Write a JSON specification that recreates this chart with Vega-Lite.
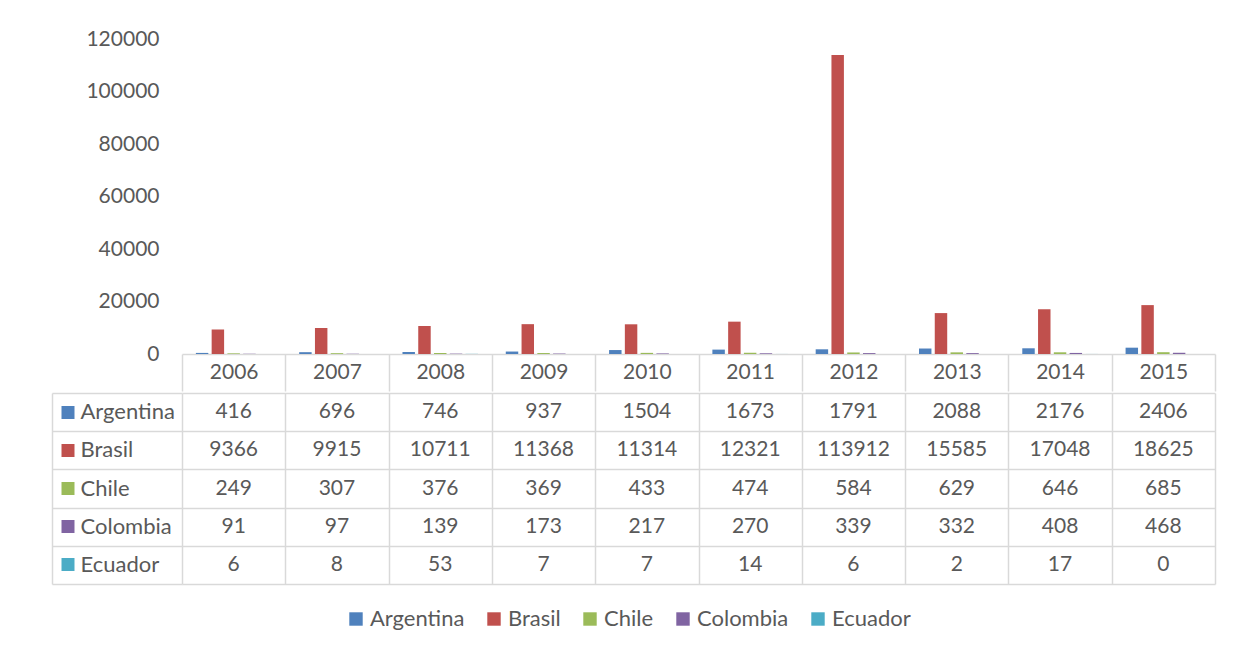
{
  "$schema": "https://vega.github.io/schema/vega-lite/v6.json",
  "padding": {"left": 51, "top": 28, "right": 10, "bottom": 10},
  "background": "white",
  "config": {"font": "Lato", "view": {"stroke": null}},
  "spacing": 0,
  "data": {"values": [
    {"year": "2006", "series": "Argentina", "value": 416},
    {"year": "2007", "series": "Argentina", "value": 696},
    {"year": "2008", "series": "Argentina", "value": 746},
    {"year": "2009", "series": "Argentina", "value": 937},
    {"year": "2010", "series": "Argentina", "value": 1504},
    {"year": "2011", "series": "Argentina", "value": 1673},
    {"year": "2012", "series": "Argentina", "value": 1791},
    {"year": "2013", "series": "Argentina", "value": 2088},
    {"year": "2014", "series": "Argentina", "value": 2176},
    {"year": "2015", "series": "Argentina", "value": 2406},
    {"year": "2006", "series": "Brasil", "value": 9366},
    {"year": "2007", "series": "Brasil", "value": 9915},
    {"year": "2008", "series": "Brasil", "value": 10711},
    {"year": "2009", "series": "Brasil", "value": 11368},
    {"year": "2010", "series": "Brasil", "value": 11314},
    {"year": "2011", "series": "Brasil", "value": 12321},
    {"year": "2012", "series": "Brasil", "value": 113912},
    {"year": "2013", "series": "Brasil", "value": 15585},
    {"year": "2014", "series": "Brasil", "value": 17048},
    {"year": "2015", "series": "Brasil", "value": 18625},
    {"year": "2006", "series": "Chile", "value": 249},
    {"year": "2007", "series": "Chile", "value": 307},
    {"year": "2008", "series": "Chile", "value": 376},
    {"year": "2009", "series": "Chile", "value": 369},
    {"year": "2010", "series": "Chile", "value": 433},
    {"year": "2011", "series": "Chile", "value": 474},
    {"year": "2012", "series": "Chile", "value": 584},
    {"year": "2013", "series": "Chile", "value": 629},
    {"year": "2014", "series": "Chile", "value": 646},
    {"year": "2015", "series": "Chile", "value": 685},
    {"year": "2006", "series": "Colombia", "value": 91},
    {"year": "2007", "series": "Colombia", "value": 97},
    {"year": "2008", "series": "Colombia", "value": 139},
    {"year": "2009", "series": "Colombia", "value": 173},
    {"year": "2010", "series": "Colombia", "value": 217},
    {"year": "2011", "series": "Colombia", "value": 270},
    {"year": "2012", "series": "Colombia", "value": 339},
    {"year": "2013", "series": "Colombia", "value": 332},
    {"year": "2014", "series": "Colombia", "value": 408},
    {"year": "2015", "series": "Colombia", "value": 468},
    {"year": "2006", "series": "Ecuador", "value": 6},
    {"year": "2007", "series": "Ecuador", "value": 8},
    {"year": "2008", "series": "Ecuador", "value": 53},
    {"year": "2009", "series": "Ecuador", "value": 7},
    {"year": "2010", "series": "Ecuador", "value": 7},
    {"year": "2011", "series": "Ecuador", "value": 14},
    {"year": "2012", "series": "Ecuador", "value": 6},
    {"year": "2013", "series": "Ecuador", "value": 2},
    {"year": "2014", "series": "Ecuador", "value": 17},
    {"year": "2015", "series": "Ecuador", "value": 0}
  ]},
  "resolve": {"scale": {"color": "independent"}, "legend": {"color": "independent"}},
  "vconcat": [
    {
      "width": 1033,
      "height": 315,
      "mark": {"type": "bar"},
      "encoding": {
        "x": {
          "field": "year", "type": "nominal",
          "scale": {"type": "band", "paddingInner": 0, "paddingOuter": 0},
          "axis": {
            "title": null, "orient": "bottom", "labelAngle": 0,
            "tickBand": "extent", "tickSize": 37, "tickColor": "#D9D9D9", "tickWidth": 1.5,
            "domainColor": "#D9D9D9", "domainWidth": 1.5,
            "labelPadding": -18.5, "labelBaseline": "middle",
            "labelFontSize": 21, "labelColor": "#595959", "grid": false
          }
        },
        "xOffset": {
          "field": "series", "type": "nominal",
          "sort": ["Argentina", "Brasil", "Chile", "Colombia", "Ecuador"],
          "scale": {"paddingInner": 0.21, "paddingOuter": 0.88}
        },
        "y": {
          "field": "value", "type": "quantitative",
          "scale": {"domain": [0, 120000], "nice": false},
          "axis": {
            "title": null, "values": [0, 20000, 40000, 60000, 80000, 100000, 120000],
            "format": "d", "domain": false, "ticks": false, "grid": false,
            "labelPadding": 23, "labelFontSize": 21, "labelColor": "#595959"
          }
        },
        "color": {
          "field": "series", "type": "nominal",
          "scale": {
            "domain": ["Argentina", "Brasil", "Chile", "Colombia", "Ecuador"],
            "range": ["#4F81BD", "#C0504D", "#9BBB59", "#8064A2", "#4BACC6"]
          },
          "legend": null
        }
      }
    },
    {
      "width": 1033,
      "height": 191,
      "resolve": {"axis": {"y": "independent"}},
      "layer": [
        {
          "mark": {"type": "text", "fontSize": 21, "color": "#595959", "baseline": "middle"},
          "encoding": {
            "x": {
              "field": "year", "type": "nominal",
              "scale": {"type": "band", "paddingInner": 0, "paddingOuter": 0},
              "axis": {
                "orient": "bottom", "title": null, "labels": false, "ticks": false, "domain": false,
                "grid": true, "tickBand": "extent", "gridColor": "#D9D9D9", "gridWidth": 1.5
              }
            },
            "y": {
              "field": "series", "type": "nominal",
              "sort": ["Argentina", "Brasil", "Chile", "Colombia", "Ecuador"],
              "scale": {"type": "band", "paddingInner": 0, "paddingOuter": 0},
              "axis": {
                "orient": "left", "title": null, "offset": 108,
                "domain": false, "grid": false,
                "ticks": true, "tickSize": 13, "tickWidth": 13, "tickCap": "butt",
                "tickColor": {"expr": "datum.value === 'Argentina' ? '#4F81BD' : datum.value === 'Brasil' ? '#C0504D' : datum.value === 'Chile' ? '#9BBB59' : datum.value === 'Colombia' ? '#8064A2' : '#4BACC6'"},
                "labelAlign": "left", "labelBaseline": "middle", "labelPadding": -19,
                "labelFontSize": 22, "labelColor": "#595959"
              }
            },
            "text": {"field": "value", "type": "quantitative", "format": "d"}
          }
        },
        {
          "mark": {"type": "text", "text": ""},
          "encoding": {
            "x": {"field": "year", "type": "nominal"},
            "y": {
              "field": "series", "type": "nominal",
              "sort": ["Argentina", "Brasil", "Chile", "Colombia", "Ecuador"],
              "axis": {
                "orient": "left", "title": null, "offset": 130, "labels": false,
                "domain": true, "domainColor": "#D9D9D9", "domainWidth": 1.5,
                "ticks": true, "tickBand": "extent", "tickSize": -130, "tickColor": "#D9D9D9", "tickWidth": 1.5,
                "grid": true, "gridColor": "#D9D9D9", "gridWidth": 1.5
              }
            },
            "color": {
              "field": "series", "type": "nominal",
              "scale": {
                "domain": ["Argentina", "Brasil", "Chile", "Colombia", "Ecuador"],
                "range": ["#4F81BD", "#C0504D", "#9BBB59", "#8064A2", "#4BACC6"]
              },
              "legend": {
                "orient": "none", "legendX": 163, "legendY": 215,
                "direction": "horizontal", "columns": 5, "title": null,
                "symbolType": "square", "symbolSize": 180, "symbolStrokeWidth": 0,
                "labelFontSize": 22, "labelColor": "#595959", "labelOffset": 3,
                "columnPadding": 18
              }
            }
          }
        }
      ]
    }
  ]
}
